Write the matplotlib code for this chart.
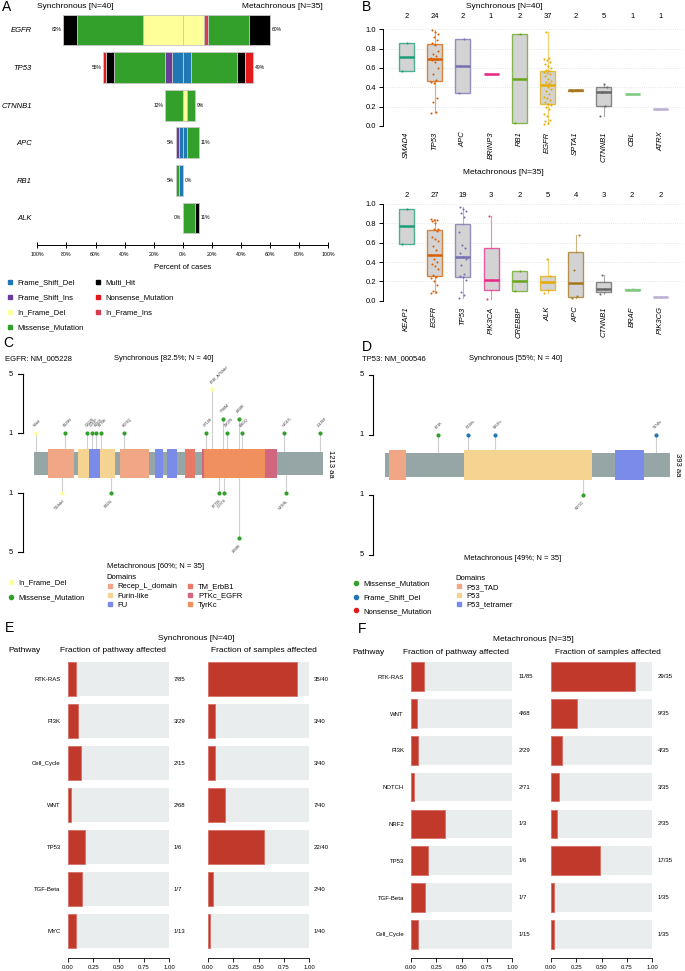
import numpy as np
import matplotlib
matplotlib.use('Agg')
import matplotlib.pyplot as plt
from matplotlib.lines import Line2D
from matplotlib.patches import Rectangle
from matplotlib.colors import to_rgba

plt.rcParams['font.family'] = ['Liberation Sans', 'DejaVu Sans']

W, H = 685, 971
fig = plt.figure(figsize=(W / 100, H / 100), dpi=100)


def px_axes(x0, y0, x1, y1):
    # axes from a pixel box, top-left origin
    return fig.add_axes([x0 / W, 1 - y1 / H, (x1 - x0) / W, (y1 - y0) / H])


def ftext(x, y, s, **kw):
    kw.setdefault('va', 'center')
    fig.text(x / W, 1 - y / H, s, **kw)


# ---------------- data ----------------
mut_colors = {'Frame_Shift_Del': '#1F78B4', 'Frame_Shift_Ins': '#6A3D9A',
              'In_Frame_Del': '#FFFF99', 'Missense_Mutation': '#33A02C',
              'Multi_Hit': '#000000', 'Nonsense_Mutation': '#E31A1C',
              'In_Frame_Ins': '#D53E4F'}

# panel A: counts per class, listed from the centre outwards
a_genes = ['EGFR', 'TP53', 'CTNNB1', 'APC', 'RB1', 'ALK']
a_n_sync, a_n_meta = 40, 35
a_sync = [[('In_Frame_Del', 11), ('Missense_Mutation', 18), ('Multi_Hit', 4)],
          [('Frame_Shift_Del', 3), ('Frame_Shift_Ins', 2), ('Missense_Mutation', 14),
           ('Multi_Hit', 2), ('Nonsense_Mutation', 1)],
          [('Missense_Mutation', 5)],
          [('Frame_Shift_Del', 1), ('Frame_Shift_Ins', 1)],
          [('Frame_Shift_Del', 1), ('Missense_Mutation', 1)],
          []]
a_meta = [[('In_Frame_Del', 5), ('In_Frame_Ins', 1), ('Missense_Mutation', 10), ('Multi_Hit', 5)],
          [('Frame_Shift_Del', 2), ('Missense_Mutation', 11), ('Multi_Hit', 2),
           ('Nonsense_Mutation', 2)],
          [('In_Frame_Del', 1), ('Missense_Mutation', 2)],
          [('Frame_Shift_Del', 1), ('Missense_Mutation', 3)],
          [],
          [('Missense_Mutation', 3), ('Multi_Hit', 1)]]

# panel B: VAF
b_colors = ['#1B9E77', '#D95F02', '#7570B3', '#E7298A', '#66A61E', '#E6AB02',
            '#A6761D', '#666666', '#7FC97F', '#BEAED4']
b_sync_genes = ['SMAD4', 'TP53', 'APC', 'BRINP3', 'RB1', 'EGFR', 'SPTA1', 'CTNNB1', 'CBL', 'ATRX']
b_sync_vaf = [
    [0.57, 0.86],
    [0.13, 0.14, 0.25, 0.29, 0.44, 0.46, 0.48, 0.54, 0.60, 0.66, 0.68, 0.69,
     0.69, 0.70, 0.72, 0.74, 0.78, 0.84, 0.86, 0.89, 0.92, 0.95, 0.97, 0.99],
    [0.34, 0.90],
    [0.54],
    [0.03, 0.95],
    [0.02, 0.03, 0.05, 0.06, 0.10, 0.12, 0.18, 0.20, 0.22, 0.23, 0.25, 0.27, 0.29,
     0.30, 0.33, 0.36, 0.38, 0.40, 0.42, 0.44, 0.46, 0.47, 0.49, 0.52, 0.54, 0.55,
     0.56, 0.57, 0.58, 0.60, 0.62, 0.64, 0.66, 0.68, 0.69, 0.70, 0.97],
    [0.36, 0.375],
    [0.10, 0.21, 0.35, 0.40, 0.43],
    [0.33],
    [0.18]]
b_meta_genes = ['KEAP1', 'EGFR', 'TP53', 'PIK3CA', 'CREBBP', 'ALK', 'APC', 'CTNNB1', 'BRAF', 'PIK3CG']
b_meta_vaf = [
    [0.59, 0.95],
    [0.08, 0.09, 0.10, 0.16, 0.20, 0.23, 0.25, 0.27, 0.33, 0.36, 0.38, 0.40, 0.43,
     0.47, 0.52, 0.57, 0.62, 0.64, 0.66, 0.72, 0.74, 0.74, 0.80, 0.82, 0.83, 0.83, 0.84],
    [0.03, 0.06, 0.09, 0.21, 0.24, 0.26, 0.28, 0.37, 0.43, 0.45, 0.49, 0.55, 0.58,
     0.71, 0.87, 0.91, 0.93, 0.95, 0.97],
    [0.02, 0.21, 0.88],
    [0.10, 0.31],
    [0.08, 0.11, 0.19, 0.26, 0.43],
    [0.03, 0.05, 0.32, 0.68],
    [0.07, 0.12, 0.27],
    [0.11, 0.12],
    [0.04, 0.04]]

# panel C: EGFR lollipop
c_length = 1213
c_dom_names = ['Recep_L_domain', 'Furin-like', 'FU', 'Recep_L_domain', 'FU', 'FU',
               'TM_ErbB1', 'PTKc_EGFR', 'TyrKc']
c_dom_start = [56, 182, 229, 358, 505, 557, 633, 703, 712]
c_dom_end = [165, 337, 274, 480, 540, 597, 674, 1020, 969]
c_dom_colors = {'Recep_L_domain': '#F1A686', 'Furin-like': '#F5D491', 'FU': '#7B8BE8',
                'TM_ErbB1': '#E77A66', 'PTKc_EGFR': '#D0677E', 'TyrKc': '#F0905F'}
c_sync_lab = ['V6del', 'K129N', 'G222S', 'C241F', 'R260I', 'E279K', 'R378Q', 'G719S',
              'E746_A750del', 'T790M', 'D807N', 'L858R', 'L861Q', 'H1047L', 'L1196F']
c_sync_pos = [6, 129, 222, 241, 260, 279, 378, 719, 746, 790, 807, 858, 872, 1048, 1197]
c_sync_cnt = [1, 1, 1, 1, 1, 1, 1, 1, 4, 2, 1, 2, 1, 1, 1]
c_sync_type = ['In_Frame_Del'] + ['Missense_Mutation'] * 7 + ['In_Frame_Del'] + ['Missense_Mutation'] * 6
c_meta_lab = ['T118del', 'R324L', 'E775K', 'C797S', 'L858R', 'H1058L']
c_meta_pos = [118, 322, 775, 797, 858, 1058]
c_meta_cnt = [1, 1, 1, 1, 4, 1]
c_meta_type = ['In_Frame_Del'] + ['Missense_Mutation'] * 5

# panel D: TP53 lollipop
d_length = 393
d_dom_names = ['P53_TAD', 'P53', 'P53_tetramer']
d_dom_start = [6, 109, 317]
d_dom_end = [29, 286, 357]
d_dom_colors = {'P53_TAD': '#F1A686', 'P53': '#F5D491', 'P53_tetramer': '#7B8BE8'}
d_sync_lab = ['E71K', 'P115fs', 'S152fs', 'T374fs']
d_sync_pos = [73, 115, 152, 374]
d_sync_cnt = [1, 1, 1, 1]
d_sync_type = ['Missense_Mutation', 'Frame_Shift_Del', 'Frame_Shift_Del', 'Frame_Shift_Del']
d_meta_lab = ['R273C']
d_meta_pos = [273]
d_meta_cnt = [1]
d_meta_type = ['Missense_Mutation']

# panels E/F: oncogenic pathways
e_pathways = ['RTK-RAS', 'PI3K', 'Cell_Cycle', 'WNT', 'TP53', 'TGF-Beta', 'MYC']
e_path_hit = [7, 3, 2, 2, 1, 1, 1]
e_path_size = [85, 29, 15, 68, 6, 7, 13]
e_samples = [35, 3, 3, 7, 22, 2, 1]
f_pathways = ['RTK-RAS', 'WNT', 'PI3K', 'NOTCH', 'NRF2', 'TP53', 'TGF-Beta', 'Cell_Cycle']
f_path_hit = [11, 4, 2, 2, 1, 1, 1, 1]
f_path_size = [85, 68, 29, 71, 3, 6, 7, 15]
f_samples = [29, 9, 4, 3, 2, 17, 1, 1]

# ---------------- panel A ----------------
axA = px_axes(37.3, 10, 328.3, 245)
for i, gene in enumerate(a_genes):
    cum = 0
    for t, n in a_sync[i]:
        w = n / a_n_sync * 100
        axA.barh(i, -w, left=-cum, height=0.82, color=mut_colors[t], edgecolor='#C8C8C8', lw=0.6)
        cum += w
    axA.text(-cum - 1, i, f'{round(cum)}%', ha='right', va='center', fontsize=3.6)
    cum = 0
    for t, n in a_meta[i]:
        w = n / a_n_meta * 100
        axA.barh(i, w, left=cum, height=0.82, color=mut_colors[t], edgecolor='#C8C8C8', lw=0.6)
        cum += w
    axA.text(cum + 1, i, f'{round(cum)}%', ha='left', va='center', fontsize=3.6)
axA.set_xlim(-100, 100)
axA.set_ylim(5.72, -0.53)
axA.set_yticks(range(len(a_genes)))
axA.set_yticklabels(a_genes, fontstyle='italic', fontsize=5.5)
axA.tick_params(axis='y', length=0, pad=4)
axA.set_xticks(np.arange(-100, 101, 20))
axA.set_xticklabels([f'{abs(v)}%' for v in range(-100, 101, 20)], fontsize=3.8)
axA.tick_params(axis='x', direction='inout', length=4, width=0.7, pad=3)
for s in ['top', 'right', 'left']:
    axA.spines[s].set_visible(False)
axA.spines['bottom'].set_linewidth(0.7)
ftext(182.7, 267, 'Percent of cases', ha='center', fontsize=5.5)
ftext(37, 6, 'Synchronous [N=40]', ha='left', fontsize=6)
ftext(323, 6, 'Metachronous [N=35]', ha='right', fontsize=6)
ftext(2, 0, 'A', fontsize=10, va='top')
a_leg = ['Frame_Shift_Del', 'Frame_Shift_Ins', 'In_Frame_Del', 'Missense_Mutation',
         'Multi_Hit', 'Nonsense_Mutation', 'In_Frame_Ins']
fig.legend([Line2D([], [], marker='s', ls='', color=mut_colors[k], markersize=3) for k in a_leg],
           a_leg, loc='upper left', bbox_to_anchor=(6 / W, 1 - 279 / H), ncol=2,
           frameon=False, fontsize=5.5, handlelength=1, handletextpad=0.5,
           columnspacing=1.3, labelspacing=1.0, borderpad=0, borderaxespad=0)


# ---------------- panel B ----------------
def fivenum(v):
    x = np.sort(np.asarray(v, float))
    n = len(x)
    n4 = np.floor((n + 3) / 2) / 2
    d = np.array([1, n4, (n + 1) / 2, n + 1 - n4, n]) - 1
    return 0.5 * (x[np.floor(d).astype(int)] + x[np.ceil(d).astype(int)])


def vaf_panel(ax, genes, vafs, count_y):
    stats = []
    for v in vafs:
        mn, q1, md, q3, mx = fivenum(v)
        iqr = q3 - q1
        x = np.asarray(v)
        lo = x[x >= q1 - 1.5 * iqr].min()
        hi = x[x <= q3 + 1.5 * iqr].max()
        stats.append(dict(med=md, q1=q1, q3=q3, whislo=lo, whishi=hi, fliers=[]))
    pos = np.arange(len(genes))
    ax.yaxis.grid(True, ls=':', color='#DDDDDD', lw=0.6)
    ax.set_axisbelow(True)
    bp = ax.bxp(stats, positions=pos, widths=0.53, patch_artist=True,
                showfliers=False, showcaps=False)
    for i, c in enumerate(b_colors):
        bp['boxes'][i].set_facecolor('#D3D3D3')
        bp['boxes'][i].set_edgecolor(to_rgba(c, 0.75))
        bp['boxes'][i].set_linewidth(1.0)
        bp['medians'][i].set_color(c)
        bp['medians'][i].set_linewidth(1.8)
        for w in bp['whiskers'][2 * i:2 * i + 2]:
            w.set_color(to_rgba(c, 0.55))
            w.set_linewidth(0.8)
        v = np.asarray(vafs[i])
        jit = ((np.arange(len(v)) * 0.618) % 1 - 0.5) * 0.28
        ax.scatter(pos[i] + jit, v, s=2.2, color=c, lw=0, zorder=5)
        ax.text(pos[i], count_y, str(len(v)), ha='center', va='center', fontsize=5.5, clip_on=False)
    ax.set_xlim(-0.84, 9.8)
    ax.set_ylim(0, 1)
    ax.set_yticks(np.arange(0, 1.01, 0.2))
    ax.set_yticklabels([f'{t:.1f}' for t in np.arange(0, 1.01, 0.2)], fontsize=5.5)
    ax.set_xticks(pos)
    ax.set_xticklabels(genes, rotation=90, fontstyle='italic', fontsize=5.5)
    ax.tick_params(axis='x', length=0, pad=4)
    ax.tick_params(axis='y', length=3, width=0.7, pad=2)
    for s in ['top', 'right', 'bottom']:
        ax.spines[s].set_visible(False)
    ax.spines['left'].set_linewidth(0.7)
    ax.patch.set_alpha(0)


axB1 = px_axes(382.7, 29.3, 683, 126)
vaf_panel(axB1, b_sync_genes, b_sync_vaf, 1.1375)
axB2 = px_axes(382.7, 204, 683, 300.7)
vaf_panel(axB2, b_meta_genes, b_meta_vaf, 1.093)
ftext(504, 7, 'Synchronous [N=40]', ha='center', fontsize=6)
ftext(503, 173, 'Metachronous [N=35]', ha='center', fontsize=6)
ftext(362, 0, 'B', fontsize=10, va='top')


# ---------------- panels C / D ----------------
def lollipop(ax, length, dnames, dstart, dend, dcols, sl, sp, sc, st, ml, mp, mc, mt,
             off, x_bracket, x_tick, x_lab):
    ax.add_patch(Rectangle((0, -0.8), length, 1.6, facecolor='#96A5A5', edgecolor='none', zorder=2))
    for n, a, b in zip(dnames, dstart, dend):
        ax.add_patch(Rectangle((a, -1.0), b - a, 2.0, facecolor=dcols[n], edgecolor='none', zorder=3))
    for sign, labs, poss, cnts, types in [(1, sl, sp, sc, st), (-1, ml, mp, mc, mt)]:
        for lab, p, c, t in zip(labs, poss, cnts, types):
            y = sign * (c + off)
            ax.plot([p, p], [0, y], color='#CFCFCF', lw=0.8, zorder=1)
            ax.scatter([p], [y], s=9, color=mut_colors[t], lw=0, zorder=4)
            if sign > 0:
                ax.text(p, y + 0.35, lab, rotation=45, ha='left', va='bottom', fontsize=2.6,
                        color='#333333', rotation_mode='anchor')
            else:
                ax.text(p, y - 0.35, lab, rotation=45, ha='right', va='top', fontsize=2.6,
                        color='#333333', rotation_mode='anchor')
        ax.plot([x_bracket, x_bracket], [sign * (1 + off), sign * (5 + off)], color='k', lw=0.8)
        for c in (1, 5):
            ax.plot([x_tick, x_bracket], [sign * (c + off)] * 2, color='k', lw=0.8)
            ax.text(x_lab, sign * (c + off), str(c), ha='right', va='center', fontsize=5.5)
    ax.axis('off')


# C: x px = 34.3 + aa * 0.2383 ; 14.75 px per count, bar centre at y=463.4
sc_, x0c, yc = 0.2383, 34.3, 463.4
axC = px_axes(0, 365, 340, 562)
axC.set_xlim((0 - x0c) / sc_, (340 - x0c) / sc_)
axC.set_ylim((463.4 - 562) / 14.75, (463.4 - 365) / 14.75)
lollipop(axC, c_length, c_dom_names, c_dom_start, c_dom_end, c_dom_colors,
         c_sync_lab, c_sync_pos, c_sync_cnt, c_sync_type,
         c_meta_lab, c_meta_pos, c_meta_cnt, c_meta_type, 1.04,
         (22.7 - x0c) / sc_, (18.3 - x0c) / sc_, (13 - x0c) / sc_)
axC.text(c_length + 14, 0, f'{c_length} aa', rotation=-90, ha='left', va='center', fontsize=5.5)
ftext(3, 343, 'C', fontsize=10)
ftext(5, 359, 'EGFR: NM_005228', ha='left', fontsize=5.5)
ftext(164, 359, 'Synchronous [82.5%; N = 40]', ha='center', fontsize=5.5)
ftext(107, 566, 'Metachronous [60%; N = 35]', ha='left', fontsize=5.5)
fig.legend([Line2D([], [], marker='o', ls='', color=mut_colors[k], markersize=3)
            for k in ['In_Frame_Del', 'Missense_Mutation']],
           ['In_Frame_Del', 'Missense_Mutation'], loc='upper left',
           bbox_to_anchor=(7 / W, 1 - 579 / H), frameon=False, fontsize=5.5, handlelength=1,
           handletextpad=0.5, labelspacing=1.0, borderpad=0, borderaxespad=0)
c_leg = ['Recep_L_domain', 'Furin-like', 'FU', 'TM_ErbB1', 'PTKc_EGFR', 'TyrKc']
fig.legend([Line2D([], [], marker='s', ls='', color=c_dom_colors[k], markersize=3) for k in c_leg],
           c_leg, loc='upper left', bbox_to_anchor=(106 / W, 1 - 574 / H), ncol=2,
           title='Domains', title_fontsize=5.5, alignment='left', frameon=False, fontsize=5.5,
           handlelength=1, handletextpad=0.5, columnspacing=1.2, labelspacing=0.25,
           borderpad=0, borderaxespad=0)

# D: x px = 385 + aa * 0.725 ; 15 px per count, bar centre at y=464.7
sd_, x0d = 0.725, 385
axD = px_axes(345, 365, 685, 565)
axD.set_xlim((345 - x0d) / sd_, (685 - x0d) / sd_)
axD.set_ylim((464.7 - 565) / 15, (464.7 - 365) / 15)
lollipop(axD, d_length, d_dom_names, d_dom_start, d_dom_end, d_dom_colors,
         d_sync_lab, d_sync_pos, d_sync_cnt, d_sync_type,
         d_meta_lab, d_meta_pos, d_meta_cnt, d_meta_type, 1.0,
         (373.3 - x0d) / sd_, (369 - x0d) / sd_, (364 - x0d) / sd_)
axD.text(d_length + 5, 0, f'{d_length} aa', rotation=-90, ha='left', va='center', fontsize=5.5)
ftext(362, 347, 'D', fontsize=10)
ftext(362, 359, 'TP53: NM_000546', ha='left', fontsize=5.5)
ftext(516, 359, 'Synchronous [55%; N = 40]', ha='center', fontsize=5.5)
ftext(464, 558, 'Metachronous [49%; N = 35]', ha='left', fontsize=5.5)
d_mleg = ['Missense_Mutation', 'Frame_Shift_Del', 'Nonsense_Mutation']
fig.legend([Line2D([], [], marker='o', ls='', color=mut_colors[k], markersize=3) for k in d_mleg],
           d_mleg, loc='upper left', bbox_to_anchor=(352 / W, 1 - 580 / H), frameon=False,
           fontsize=5.5, handlelength=1, handletextpad=0.5, labelspacing=0.85,
           borderpad=0, borderaxespad=0)
fig.legend([Line2D([], [], marker='s', ls='', color=d_dom_colors[k], markersize=3) for k in d_dom_names],
           d_dom_names, loc='upper left', bbox_to_anchor=(455 / W, 1 - 575 / H),
           title='Domains', title_fontsize=5.5, alignment='left', frameon=False, fontsize=5.5,
           handlelength=1, handletextpad=0.5, labelspacing=0.2, borderpad=0, borderaxespad=0)


# ---------------- panels E / F ----------------
def pathway_bars(ax, names, num, den, ylim, height, lab_x, show_names):
    num = np.asarray(num, float)
    den = np.asarray(den, float)
    y = np.arange(len(names))
    ax.barh(y, 1, height=height, color='#E9EDED', lw=0)
    ax.barh(y, num / den, height=height, color='#C0392B', edgecolor='#D77065', lw=0.6)
    for yi, n, d in zip(y, num, den):
        ax.text(lab_x, yi, f'{int(n)}/{int(d)}', ha='left', va='center', fontsize=4.3, clip_on=False)
    ax.set_xlim(0, 1)
    ax.set_ylim(*ylim)
    ax.set_yticks(y)
    if show_names:
        ax.set_yticklabels(names, fontsize=4.3)
    else:
        ax.set_yticklabels([])
    ax.tick_params(axis='y', length=0, pad=5)
    ax.set_xticks([0, 0.25, 0.5, 0.75, 1])
    ax.set_xticklabels(['0.00', '0.25', '0.50', '0.75', '1.00'], fontsize=4.3)
    ax.tick_params(axis='x', length=3, width=0.6, pad=2)
    for s in ['top', 'right', 'left']:
        ax.spines[s].set_visible(False)
    ax.spines['bottom'].set_linewidth(0.6)


e_ylim = ((958 - 679) / 42, (655 - 679) / 42)
axE1 = px_axes(67.7, 655, 169.3, 958)
pathway_bars(axE1, e_pathways, e_path_hit, e_path_size, e_ylim, 0.79, 1.046, True)
axE2 = px_axes(207.7, 655, 309.3, 958)
pathway_bars(axE2, e_pathways, e_samples, [40] * len(e_samples), e_ylim, 0.79, 1.046, False)
ftext(5, 628, 'E', fontsize=10)
ftext(196, 638, 'Synchronous [N=40]', ha='center', fontsize=6)
ftext(8, 651, 'Pathway', ha='left', fontsize=6)
ftext(113, 651, 'Fraction of pathway affected', ha='center', fontsize=6)
ftext(264, 651, 'Fraction of samples affected', ha='center', fontsize=6)

f_ylim = ((958 - 676.7) / 36.8, (655 - 676.7) / 36.8)
axF1 = px_axes(411, 655, 512.3, 958)
pathway_bars(axF1, f_pathways, f_path_hit, f_path_size, f_ylim, 0.78, 1.06, True)
axF2 = px_axes(550.7, 655, 652.3, 958)
pathway_bars(axF2, f_pathways, f_samples, [35] * len(f_samples), f_ylim, 0.78, 1.05, False)
ftext(358, 629, 'F', fontsize=10)
ftext(533, 639, 'Metachronous [N=35]', ha='center', fontsize=6)
ftext(352, 652, 'Pathway', ha='left', fontsize=6)
ftext(456, 652, 'Fraction of pathway affected', ha='center', fontsize=6)
ftext(608, 652, 'Fraction of samples affected', ha='center', fontsize=6)

fig.savefig('out.png', dpi=100)
